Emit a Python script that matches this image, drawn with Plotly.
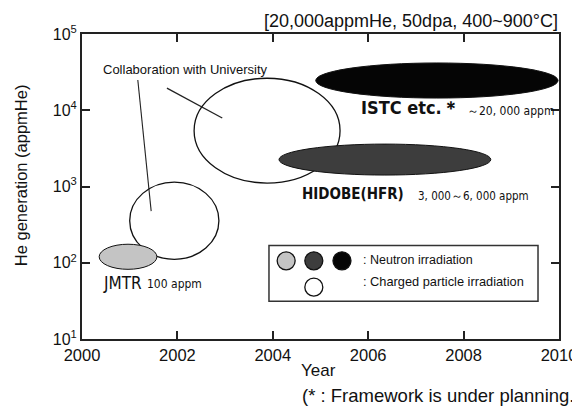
import math
import plotly.graph_objects as go

# ---- data ----
x_ticks = [2000, 2002, 2004, 2006, 2008, 2010]
y_ticks = [10, 100, 1000, 10000, 100000]
y_tick_text = ["10<sup>1</sup>", "10<sup>2</sup>", "10<sup>3</sup>", "10<sup>4</sup>", "10<sup>5</sup>"]

# irradiation programmes (ellipses): year span and He generation span (appmHe)
prog_names = ["Univ. small", "Univ. large", "JMTR", "HIDOBE", "ISTC"]
prog_year_start = [2001.0, 2002.35, 2000.36, 2004.13, 2004.9]
prog_year_end = [2002.87, 2005.41, 2001.57, 2008.57, 2009.98]
prog_he_low = [111, 1110, 82, 1413, 14450]
prog_he_high = [1143, 26300, 175, 3600, 41700]
prog_fill = ["#ffffff", "#ffffff", "#c4c4c4", "#3d3d3d", "#050505"]

# legend markers
legend_fill = ["#c4c4c4", "#3d3d3d", "#050505", "#ffffff"]
legend_year = [2004.28, 2004.86, 2005.45, 2004.86]
legend_he = [10**2.025, 10**2.025, 10**2.025, 10**1.68]

SANS = "Liberation Sans, Arial, sans-serif"
NARROW = "Liberation Sans Narrow, DejaVu Sans Condensed, Liberation Sans, sans-serif"

fig = go.Figure()

shapes = []
for xs, xe, yl, yh, f in zip(prog_year_start, prog_year_end, prog_he_low, prog_he_high, prog_fill):
    shapes.append(dict(type="circle", xref="x", yref="y", x0=xs, x1=xe, y0=yl, y1=yh,
                       fillcolor=f, line=dict(color="#111111", width=1.3 if f == "#ffffff" else 1),
                       layer="below"))

# pointer lines from "Collaboration with University"
shapes.append(dict(type="line", xref="x", yref="y", x0=2001.17, y0=10**4.396, x1=2001.45, y1=10**2.677,
                   line=dict(color="#222", width=1.1), layer="below"))
shapes.append(dict(type="line", xref="x", yref="y", x0=2001.78, y0=10**4.291, x1=2002.94, y1=10**3.898,
                   line=dict(color="#222", width=1.3), layer="below"))

# legend box
shapes.append(dict(type="rect", xref="x", yref="y", x0=2003.92, x1=2009.56, y0=10**1.495, y1=10**2.225,
                   line=dict(color="#333", width=1.5), fillcolor="rgba(0,0,0,0)", layer="below"))

# legend circles as markers
fig.add_trace(go.Scatter(x=legend_year, y=legend_he, mode="markers",
                         marker=dict(size=18, color=legend_fill, line=dict(color="#111", width=1.3)),
                         showlegend=False, hoverinfo="skip", cliponaxis=False))

annotations = [
    dict(text="[20,000appmHe, 50dpa, 400~900°C]", xref="paper", yref="paper", x=1.002, y=1.044,
         xanchor="right", yanchor="middle", showarrow=False,
         font=dict(family=SANS, size=18, color="#111")),
    dict(text="Collaboration with University", xref="x", yref="y", x=2002.16, y=4.528,
         showarrow=False, font=dict(family=SANS, size=13, color="#111")),
    dict(text="<b>ISTC etc.＊</b>", xref="x", yref="y", x=2005.8, y=4.03, xanchor="left",
         showarrow=False, font=dict(family=NARROW, size=18, color="#111")),
    dict(text="～20, 000 appm", xref="x", yref="y", x=2008.02, y=3.99, xanchor="left",
         showarrow=False, font=dict(family=NARROW, size=12, color="#111")),
    dict(text="<b>HIDOBE(HFR)</b>", xref="x", yref="y", x=2004.57, y=2.9, xanchor="left",
         showarrow=False, font=dict(family=NARROW, size=15, color="#111")),
    dict(text="3, 000～6, 000 appm", xref="x", yref="y", x=2007.0, y=2.87, xanchor="left",
         showarrow=False, font=dict(family=NARROW, size=11.5, color="#111")),
    dict(text="JMTR", xref="x", yref="y", x=2000.4, y=1.73, xanchor="left",
         showarrow=False, font=dict(family=NARROW, size=17, color="#111")),
    dict(text="100 appm", xref="x", yref="y", x=2001.33, y=1.72, xanchor="left",
         showarrow=False, font=dict(family=NARROW, size=12, color="#111")),
    dict(text=": Neutron irradiation", xref="x", yref="y", x=2005.85, y=2.03, xanchor="left",
         showarrow=False, font=dict(family=SANS, size=12.5, color="#111")),
    dict(text=": Charged particle irradiation", xref="x", yref="y", x=2005.85, y=1.75, xanchor="left",
         showarrow=False, font=dict(family=SANS, size=12.8, color="#111")),
    dict(text="He generation (appmHe)", xref="paper", yref="paper", x=-0.128, y=0.537,
         textangle=-90, showarrow=False, xanchor="center", yanchor="middle",
         font=dict(family=SANS, size=16.5, color="#111")),
    dict(text="Year", xref="paper", yref="paper", x=0.495, y=-0.102, yanchor="middle",
         showarrow=False, font=dict(family=SANS, size=17, color="#111")),
    dict(text="(* : Framework is under planning.)", xref="paper", yref="paper", x=0.457, y=-0.186,
         xanchor="left", yanchor="middle", showarrow=False,
         font=dict(family=SANS, size=18.5, color="#111")),
]

# page body has an 8px margin, so the figure is 8px smaller and margins reduced by 8
fig.update_layout(
    width=572, height=400,
    margin=dict(l=74, r=21, t=26, b=69, autoexpand=False),
    paper_bgcolor="white", plot_bgcolor="white",
    showlegend=False,
    shapes=shapes,
    annotations=annotations,
    xaxis=dict(range=[2000, 2010], tickvals=x_ticks, ticks="inside", ticklen=8, tickwidth=1.5,
               tickcolor="#222", showline=True, linecolor="#222", linewidth=2, mirror="ticks",
               showgrid=False, zeroline=False, automargin=False,
               tickfont=dict(family=SANS, size=16.5, color="#111")),
    yaxis=dict(type="log", range=[1, 5], tickvals=y_ticks, ticktext=y_tick_text, ticks="inside",
               ticklen=8, tickwidth=1.5, tickcolor="#222", showline=True, linecolor="#222",
               linewidth=2, mirror="ticks", showgrid=False, zeroline=False, automargin=False,
               tickfont=dict(family=SANS, size=16, color="#111")),
)

fig.write_html("out.html")
